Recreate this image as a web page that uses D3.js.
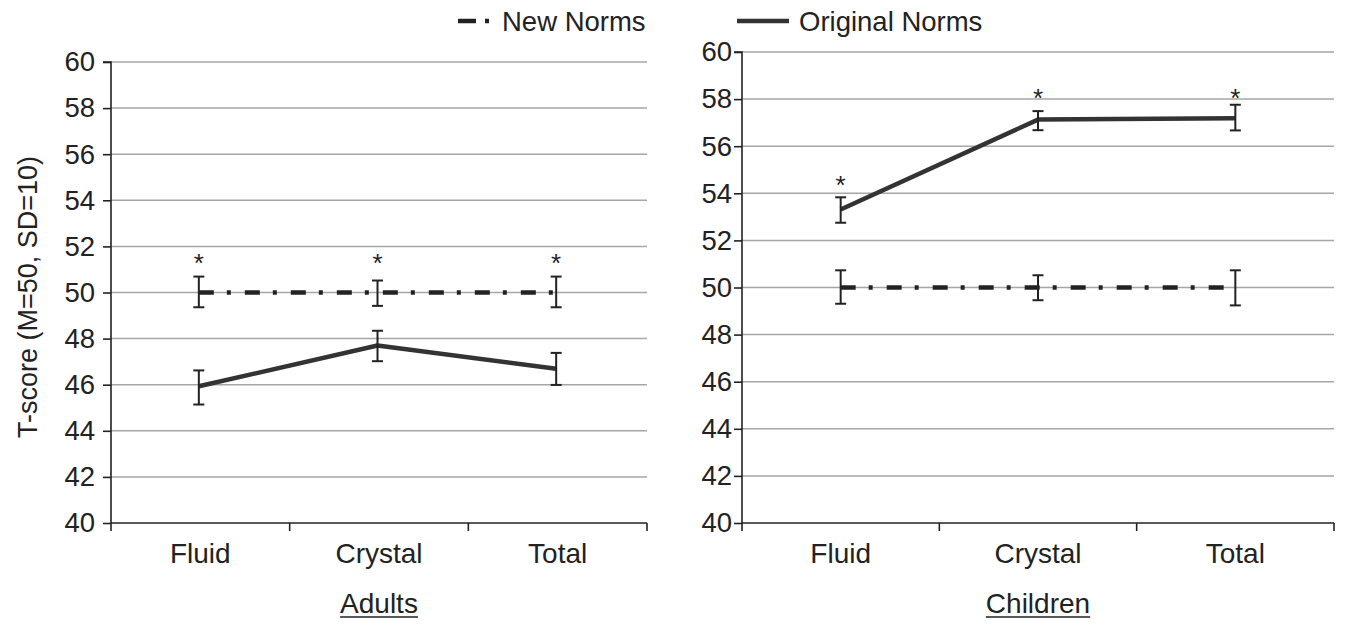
<!DOCTYPE html>
<html>
<head>
<meta charset="utf-8">
<script src="https://cdn.jsdelivr.net/npm/d3@7"></script>
<style>
  html, body { margin: 0; padding: 0; background: #fff; }
  svg { display: block; font-family: "Liberation Sans", Arial, Helvetica, sans-serif; }
</style>
</head>
<body>
<svg id="chart" width="1346" height="624"></svg>
<script>
// ---------- data ----------
const categories = ["Fluid", "Crystal", "Total"];
const yTicks = [40, 42, 44, 46, 48, 50, 52, 54, 56, 58, 60];
const seriesNames = ["New Norms", "Original Norms"];
const panelTitles = ["Adults", "Children"];
const yAxisTitle = "T-score (M=50,  SD=10)";

// Adults
const adultsNewMean = [50, 50, 50];
const adultsNewLow  = [49.36, 49.42, 49.36];
const adultsNewHigh = [50.69, 50.52, 50.69];
const adultsOrigMean = [45.93, 47.70, 46.69];
const adultsOrigLow  = [45.14, 47.02, 45.99];
const adultsOrigHigh = [46.62, 48.34, 47.38];
const adultsSigAt = [51.52, 51.52, 51.52];

// Children
const childrenNewMean = [50, 50, 50];
const childrenNewLow  = [49.31, 49.46, 49.24];
const childrenNewHigh = [50.73, 50.52, 50.73];
const childrenOrigMean = [53.31, 57.13, 57.19];
const childrenOrigLow  = [52.75, 56.68, 56.67];
const childrenOrigHigh = [53.83, 57.49, 57.76];
const childrenSigAt = [54.59, 58.29, 58.29];

// ---------- drawing ----------
const svg = d3.select("#chart");
const INK = "#222";
const GRID = "#a6a6a6";
const DASHDOT = "15,13,4,14";

function drawPanel(p) {
  const x = d3.scaleBand().domain(categories).range([p.left, p.right]).paddingInner(0).paddingOuter(0);
  const y = d3.scaleLinear().domain([40, 60]).range([p.bottom, p.top]);
  const g = svg.append("g");

  // gridlines
  g.selectAll("line.grid").data(yTicks.filter(t => t > 40)).join("line")
    .attr("x1", p.left).attr("x2", p.right)
    .attr("y1", d => y(d)).attr("y2", d => y(d))
    .attr("stroke", GRID).attr("stroke-width", 1.5);

  // y axis
  const ya = g.append("g").attr("transform", `translate(${p.left},0)`)
    .call(d3.axisLeft(y).tickValues(yTicks).tickSize(8).tickPadding(p.tickPad).tickFormat(d3.format("d")));
  ya.select(".domain").attr("stroke", INK).attr("stroke-width", 1.6).attr("d", `M-8,${y(60)}H0V${y(40)}`);
  ya.selectAll(".tick line").attr("stroke", INK).attr("stroke-width", 1.6);
  ya.selectAll(".tick text").attr("font-size", 27.5).attr("fill", INK)
    .attr("font-family", "Liberation Sans, Arial, sans-serif");

  // x axis (ticks at band boundaries)
  const bounds = categories.map(c => x(c)).concat([p.right]);
  g.append("line").attr("x1", p.left).attr("x2", p.right)
    .attr("y1", p.bottom).attr("y2", p.bottom)
    .attr("stroke", INK).attr("stroke-width", 1.6);
  g.selectAll("line.xt").data(bounds).join("line")
    .attr("x1", d => d).attr("x2", d => d)
    .attr("y1", p.bottom).attr("y2", p.bottom + 8)
    .attr("stroke", INK).attr("stroke-width", 1.6);
  g.selectAll("text.cat").data(categories).join("text")
    .attr("x", d => x(d) + x.bandwidth() / 2)
    .attr("y", p.bottom + 40)
    .attr("text-anchor", "middle").attr("font-size", 28).attr("fill", INK)
    .text(d => d);

  // panel title underlined
  const cx = (p.left + p.right) / 2;
  const t = g.append("text").attr("x", cx).attr("y", p.bottom + 90)
    .attr("text-anchor", "middle").attr("font-size", 28).attr("fill", INK).text(p.title);
  const w = t.node().getComputedTextLength();
  g.append("line").attr("x1", cx - w / 2).attr("x2", cx + w / 2)
    .attr("y1", p.bottom + 94).attr("y2", p.bottom + 94)
    .attr("stroke", INK).attr("stroke-width", 1.6);

  const cxOf = i => x(categories[i]) + x.bandwidth() / 2 - p.shift;

  const line = d3.line().x((d, i) => cxOf(i)).y(d => y(d));

  // series lines
  g.append("path").datum(p.newMean).attr("d", line)
    .attr("fill", "none").attr("stroke", INK).attr("stroke-width", 4.5)
    .attr("stroke-dasharray", DASHDOT);
  g.append("path").datum(p.origMean).attr("d", line)
    .attr("fill", "none").attr("stroke", "#333").attr("stroke-width", 4.5)
    .attr("stroke-linejoin", "round");

  // error bars
  function errBars(low, high) {
    const eb = g.append("g");
    categories.forEach((c, i) => {
      const xc = cxOf(i);
      eb.append("line").attr("x1", xc).attr("x2", xc).attr("y1", y(low[i])).attr("y2", y(high[i]))
        .attr("stroke", INK).attr("stroke-width", 2);
      [low[i], high[i]].forEach(v => {
        eb.append("line").attr("x1", xc - 5.5).attr("x2", xc + 5.5).attr("y1", y(v)).attr("y2", y(v))
          .attr("stroke", INK).attr("stroke-width", 2);
      });
    });
  }
  errBars(p.newLow, p.newHigh);
  errBars(p.origLow, p.origHigh);

  // significance asterisks
  g.selectAll("text.sig").data(p.sigAt).join("text")
    .attr("x", (d, i) => cxOf(i))
    .attr("y", d => y(d) + 15)
    .attr("text-anchor", "middle").attr("font-size", 26).attr("fill", INK)
    .text("*");
}

drawPanel({
  left: 111, right: 647, top: 62, bottom: 523, tickPad: 8, shift: 1.5, title: panelTitles[0],
  newMean: adultsNewMean, newLow: adultsNewLow, newHigh: adultsNewHigh,
  origMean: adultsOrigMean, origLow: adultsOrigLow, origHigh: adultsOrigHigh,
  sigAt: adultsSigAt
});
drawPanel({
  left: 742, right: 1334, top: 52, bottom: 523, tickPad: 2, shift: 0, title: panelTitles[1],
  newMean: childrenNewMean, newLow: childrenNewLow, newHigh: childrenNewHigh,
  origMean: childrenOrigMean, origLow: childrenOrigLow, origHigh: childrenOrigHigh,
  sigAt: childrenSigAt
});

// y axis title
svg.append("text")
  .attr("transform", "translate(37,297) rotate(-90)")
  .attr("text-anchor", "middle").attr("font-size", 27).attr("fill", INK)
  .text(yAxisTitle);

// legend
const legend = svg.append("g");
legend.append("line").attr("x1", 458).attr("x2", 492).attr("y1", 21).attr("y2", 21)
  .attr("stroke", INK).attr("stroke-width", 4.5).attr("stroke-dasharray", "18,9,4,40");
legend.append("text").attr("x", 502).attr("y", 31).attr("font-size", 27.5).attr("fill", INK).text(seriesNames[0]);
legend.append("line").attr("x1", 737).attr("x2", 789).attr("y1", 21).attr("y2", 21)
  .attr("stroke", "#333").attr("stroke-width", 4.5);
legend.append("text").attr("x", 799).attr("y", 31).attr("font-size", 27.5).attr("fill", INK).text(seriesNames[1]);
</script>
</body>
</html>
